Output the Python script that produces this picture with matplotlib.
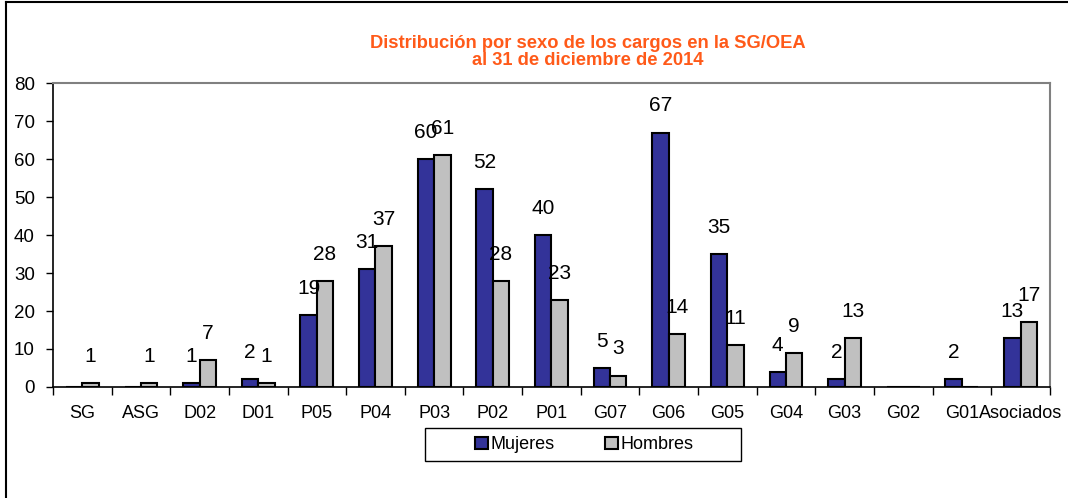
import numpy as np
import matplotlib.pyplot as plt
from matplotlib.lines import Line2D
from matplotlib.patches import Rectangle

plt.rcParams['font.family'] = ['Liberation Sans', 'DejaVu Sans']

cargos = ['SG', 'ASG', 'D02', 'D01', 'P05', 'P04', 'P03', 'P02', 'P01',
          'G07', 'G06', 'G05', 'G04', 'G03', 'G02', 'G01', 'Asociados']
mujeres = [0, 0, 1, 2, 19, 31, 60, 52, 40, 5, 67, 35, 4, 2, 0, 2, 13]
hombres = [1, 1, 7, 1, 28, 37, 61, 28, 23, 3, 14, 11, 9, 13, 0, 0, 17]

fig = plt.figure(figsize=(10.68, 4.98), dpi=100)
ax = fig.add_axes([0.0496, 0.223, 0.9334, 0.61])

x = np.arange(len(cargos))
w = 0.28
b1 = ax.bar(x - w / 2, mujeres, w, color='#333399', edgecolor='black', linewidth=1.5, label='Mujeres')
b2 = ax.bar(x + w / 2, hombres, w, color='#C0C0C0', edgecolor='black', linewidth=1.5, label='Hombres')

# etiquetas de datos (sin ceros)
for bars, vals in ((b1, mujeres), (b2, hombres)):
    for r, v in zip(bars, vals):
        if v == 0:
            continue
        ax.text(r.get_x() + r.get_width() / 2, v + 7, str(v),
                ha='center', va='center', fontsize=15)

ax.set_xlim(-0.5, len(cargos) - 0.5)
ax.set_ylim(0, 80)
ax.set_yticks(range(0, 81, 10))
ax.tick_params(axis='y', labelsize=13.5, direction='out', length=5, width=1, pad=8)
ax.set_xticks(x)
ax.set_xticklabels(cargos, fontsize=13)
ax.tick_params(axis='x', length=0, pad=13)
ax.set_xticks(np.arange(-0.5, len(cargos)), minor=True)
ax.tick_params(axis='x', which='minor', direction='out', length=6, width=1)

for s in ('left', 'bottom'):
    ax.spines[s].set_color('black')
    ax.spines[s].set_linewidth(1.2)
for s in ('top', 'right'):
    ax.spines[s].set_color('#808080')
    ax.spines[s].set_linewidth(1.5)

fig.text(0.55, 0.895, 'Distribución por sexo de los cargos en la SG/OEA\nal 31 de diciembre de 2014',
         ha='center', va='center', fontsize=13.2, fontweight='bold', color='#FF5A19',
         linespacing=1.0)

# leyenda con caja fija
ax.add_patch(Rectangle((425 / 1068, 1 - 461 / 498), 316 / 1068, 33 / 498,
                       transform=fig.transFigure, facecolor='white', clip_on=False,
                       edgecolor='black', linewidth=1, zorder=4))
leg = ax.legend(loc='center', bbox_to_anchor=(0.533, -0.19), ncol=2, fontsize=13,
                frameon=False, handlelength=0.7, handleheight=0.7,
                handletextpad=0.15, columnspacing=2.8)
leg.set_zorder(6)

# marco exterior
fig.add_artist(Line2D([0.006, 0.006], [0, 0.996], color='black', linewidth=1.5, transform=fig.transFigure))
fig.add_artist(Line2D([0.006, 1], [0.996, 0.996], color='black', linewidth=1.5, transform=fig.transFigure))

fig.savefig('out.png', dpi=100)
